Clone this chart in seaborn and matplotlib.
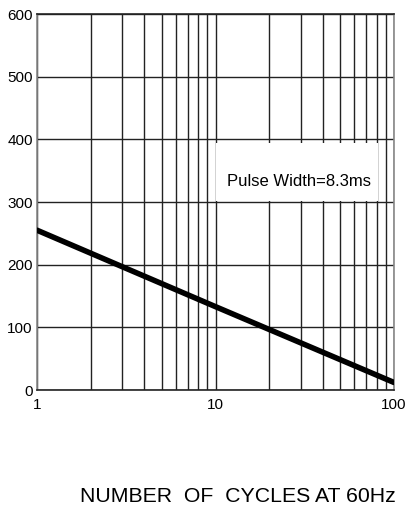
import seaborn as sns
import matplotlib.pyplot as plt
import matplotlib.patches as mpatches
import pandas as pd

# values
cycles = [1, 10, 100]
current = [255, 133, 12]
y_ticks = [0, 100, 200, 300, 400, 500, 600]
x_ticks = [1, 10, 100]
x_tick_labels = ['1', '10', '100']

sns.set_style('white')
plt.rcParams['font.family'] = ['Liberation Sans', 'DejaVu Sans']
plt.rcParams['text.color'] = 'black'

df = pd.DataFrame({'cycles': cycles, 'current': current})

fig = plt.figure(figsize=(4.08, 5.18), dpi=100)
ax = fig.add_axes([37 / 408, 1 - 390 / 518, 357 / 408, 376 / 518])

sns.lineplot(data=df, x='cycles', y='current', ax=ax, color='black',
             linewidth=4, zorder=5)

ax.set_xscale('log')
ax.set_xlim(1, 100)
ax.set_ylim(0, 600)
ax.set_xticks(x_ticks)
ax.set_xticklabels(x_tick_labels)
ax.set_yticks(y_ticks)
ax.tick_params(axis='both', length=0, labelsize=11, colors='black')
ax.tick_params(axis='x', pad=6)
ax.tick_params(axis='y', pad=3)

ax.grid(True, which='major', axis='y', color='#222222', linewidth=1)
ax.grid(True, which='both', axis='x', color='#222222', linewidth=1)
ax.set_axisbelow(True)

for side in ['top', 'bottom']:
    ax.spines[side].set_color('#222222')
ax.spines['left'].set_color('#888888')
ax.spines['right'].set_color('#888888')
for s in ax.spines.values():
    s.set_linewidth(1.2)

ax.set_xlabel('')
ax.set_ylabel('')

# white label box over the grid
box = mpatches.Rectangle((10.1, 302), 81.5 - 10.1, 394 - 302, facecolor='white',
                         edgecolor='none', zorder=2)
ax.add_patch(box)
ax.text(29.5, 333, 'Pulse Width=8.3ms', ha='center', va='center',
        fontsize=12, zorder=3)

fig.text(80 / 408, 1 - 497 / 518, 'NUMBER  OF  CYCLES AT 60Hz', ha='left',
         va='center', fontsize=15.3)

fig.savefig('out.png', dpi=100)
